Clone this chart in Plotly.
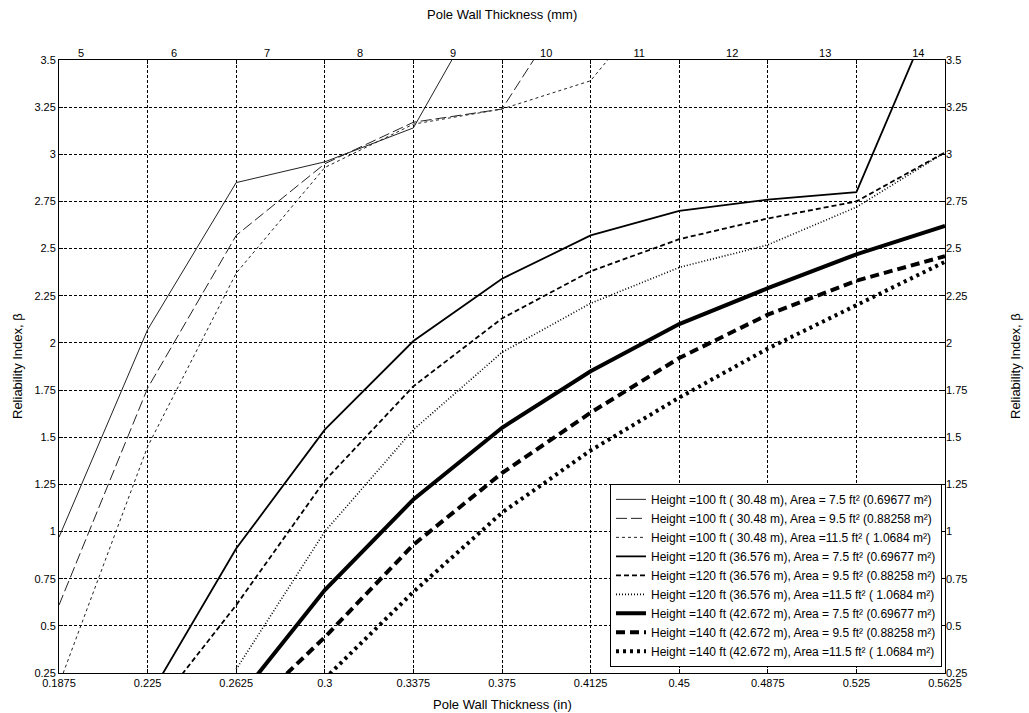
import plotly.graph_objects as go

# Pole wall thickness (in) at which reliability was evaluated
thickness_in = [0.1875, 0.225, 0.2625, 0.3, 0.3375, 0.375, 0.4125, 0.45, 0.4875, 0.525, 0.5625]

# Reliability index beta for each pole height / cross-section area
beta_h100_a75 = [0.97, 2.07, 2.85, 2.96, 3.14, 3.97, None, None, None, None, None]
beta_h100_a95 = [0.61, 1.76, 2.57, 2.95, 3.17, 3.24, 3.97, None, None, None, None]
beta_h100_a115 = [0.19, 1.45, 2.37, 2.93, 3.16, 3.24, 3.39, 3.96, None, None, None]
beta_h120_a75 = [None, 0.11, 0.91, 1.54, 2.01, 2.34, 2.57, 2.70, 2.76, 2.80, 3.90]
beta_h120_a95 = [None, 0.01, 0.61, 1.27, 1.77, 2.13, 2.38, 2.55, 2.66, 2.75, 3.01]
beta_h120_a115 = [None, None, 0.27, 1.00, 1.54, 1.95, 2.21, 2.40, 2.52, 2.72, 3.01]
beta_h140_a75 = [None, None, 0.10, 0.69, 1.17, 1.55, 1.85, 2.10, 2.29, 2.47, 2.62]
beta_h140_a95 = [None, None, -0.01, 0.44, 0.93, 1.31, 1.63, 1.92, 2.15, 2.33, 2.46]
beta_h140_a115 = [None, None, None, 0.22, 0.68, 1.10, 1.43, 1.71, 1.97, 2.20, 2.43]

series_names = [
    "Height =100 ft ( 30.48 m), Area = 7.5 ft² (0.69677 m²)",
    "Height =100 ft ( 30.48 m), Area = 9.5 ft² (0.88258 m²)",
    "Height =100 ft ( 30.48 m), Area =11.5 ft² ( 1.0684 m²)",
    "Height =120 ft (36.576 m), Area = 7.5 ft² (0.69677 m²)",
    "Height =120 ft (36.576 m), Area = 9.5 ft² (0.88258 m²)",
    "Height =120 ft (36.576 m), Area =11.5 ft² ( 1.0684 m²)",
    "Height =140 ft (42.672 m), Area = 7.5 ft² (0.69677 m²)",
    "Height =140 ft (42.672 m), Area = 9.5 ft² (0.88258 m²)",
    "Height =140 ft (42.672 m), Area =11.5 ft² ( 1.0684 m²)",
]

x_tick_labels = ["0.1875", "0.225", "0.2625", "0.3", "0.3375", "0.375",
                 "0.4125", "0.45", "0.4875", "0.525", "0.5625"]
beta_ticks = [0.25, 0.5, 0.75, 1, 1.25, 1.5, 1.75, 2, 2.25, 2.5, 2.75, 3, 3.25, 3.5]
beta_tick_labels = ["0.25", "0.5", "0.75", "1", "1.25", "1.5", "1.75", "2",
                    "2.25", "2.5", "2.75", "3", "3.25", "3.5"]
mm_ticks = [5, 6, 7, 8, 9, 10, 11, 12, 13, 14]

series_values = [beta_h100_a75, beta_h100_a95, beta_h100_a115,
                 beta_h120_a75, beta_h120_a95, beta_h120_a115,
                 beta_h140_a75, beta_h140_a95, beta_h140_a115]

# line width / dash per series: thin for 100 ft, medium for 120 ft, heavy for 140 ft
styles = [
    dict(width=1, dash="solid", color="#222222"),
    dict(width=1, dash="11px,4px", color="#222222"),
    dict(width=1, dash="3px,3px", color="#222222"),
    dict(width=1.8, dash="solid", color="#000000"),
    dict(width=1.8, dash="5px,3px", color="#000000"),
    dict(width=1.6, dash="1px,2px", color="#000000"),
    dict(width=4, dash="solid", color="#000000"),
    dict(width=4, dash="9px,5px", color="#000000"),
    dict(width=4, dash="3px,4px", color="#000000"),
]

FONT = "Liberation Sans, Arial, sans-serif"

fig = go.Figure()
for name, vals, st in zip(series_names, series_values, styles):
    fig.add_trace(go.Scatter(x=thickness_in, y=vals, mode="lines", name=name,
                             line=st, connectgaps=False, hoverinfo="skip"))

# carrier for the secondary (mm / right-hand) axes
fig.add_trace(go.Scatter(x=[mm_ticks[0]], y=[None], xaxis="x2", yaxis="y2",
                         mode="lines", showlegend=False, hoverinfo="skip"))

x_lo, x_hi = thickness_in[0], thickness_in[-1]
y_lo, y_hi = beta_ticks[0], beta_ticks[-1]

grid = dict(showgrid=True, gridcolor="#000000", gridwidth=1, griddash="3px,2px")

fig.update_layout(
    width=1029, height=713,
    margin=dict(l=59, r=84, t=60, b=40),
    paper_bgcolor="white", plot_bgcolor="white",
    font=dict(family=FONT, size=11, color="#000000"),
    xaxis=dict(range=[x_lo, x_hi], tickvals=thickness_in, ticktext=x_tick_labels,
               ticks="inside", ticklen=4, tickcolor="#000", showline=True,
               linecolor="#000", linewidth=1, mirror="ticks", zeroline=False,
               tickfont=dict(size=11), **grid),
    yaxis=dict(range=[y_lo, y_hi], tickvals=beta_ticks, ticktext=beta_tick_labels,
               ticks="inside", ticklen=4, tickcolor="#000", showline=True,
               linecolor="#000", linewidth=1, mirror="ticks", zeroline=False,
               tickfont=dict(size=11), **grid),
    xaxis2=dict(range=[x_lo * 25.4, x_hi * 25.4], tickvals=mm_ticks, side="top",
                overlaying="x", anchor="y", ticks="", showgrid=False,
                showline=False, zeroline=False, tickfont=dict(size=11)),
    yaxis2=dict(range=[y_lo, y_hi], tickvals=beta_ticks, ticktext=beta_tick_labels,
                side="right", overlaying="y", anchor="x", ticks="", showgrid=False,
                showline=False, zeroline=False, tickfont=dict(size=11)),
    legend=dict(x=0.9966, xanchor="right", y=0.01, yanchor="bottom",
                bgcolor="white", bordercolor="#000", borderwidth=1,
                font=dict(size=12, family=FONT), itemwidth=30,
                tracegroupgap=0),
    showlegend=True,
)

def px_x(px):
    return (px - 59) / 886.0

def px_y(py):
    return (673 - py) / 613.0

fig.add_annotation(text="Pole Wall Thickness (in)", xref="paper", yref="paper",
                   x=px_x(502), y=px_y(704), showarrow=False,
                   xanchor="center", yanchor="middle", font=dict(size=13))
fig.add_annotation(text="Pole Wall Thickness (mm)", xref="paper", yref="paper",
                   x=px_x(502), y=px_y(14), showarrow=False,
                   xanchor="center", yanchor="middle", font=dict(size=13))
fig.add_annotation(text="Reliability Index, β", xref="paper", yref="paper",
                   x=px_x(17), y=px_y(366), showarrow=False, textangle=-90,
                   xanchor="center", yanchor="middle", font=dict(size=13))
fig.add_annotation(text="Reliability Index, β", xref="paper", yref="paper",
                   x=px_x(1015), y=px_y(366), showarrow=False, textangle=-90,
                   xanchor="center", yanchor="middle", font=dict(size=13))

fig.write_html("out.html")
